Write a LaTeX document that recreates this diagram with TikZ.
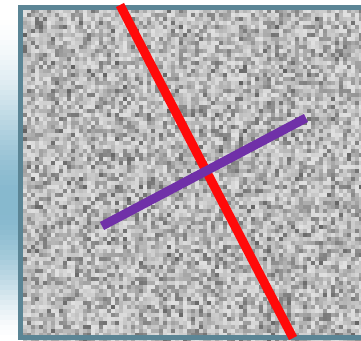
\documentclass[tikz,border=0pt]{standalone}
\usepackage{xcolor}
\definecolor{framegray}{HTML}{5B8595}
\definecolor{stripblue}{HTML}{78B0C8}
\definecolor{linered}{HTML}{FF0A0A}
\definecolor{linepurple}{HTML}{7030A8}
\begin{document}
\begin{tikzpicture}[
    x=1pt, y=-1pt,
    cross/.style={line width=9pt, line cap=butt},
]
\useasboundingbox (0,0) rectangle (361,340);

% Side strip
\foreach \k in {0,...,67} {
  \pgfmathsetmacro{\t}{(\k+0.5)/68}
  \pgfmathtruncatemacro{\p}{90*sin(180*\t^1.35)^1.6}
  \fill[stripblue!\p!white] (0,{5*\k}) rectangle (18,{5*\k+5.4});
}

% Noise field
\fill[black!30] (21,7) rectangle (361,338);
\pgfmathsetseed{4217}
\foreach \i in {0,...,84} {
  \foreach \j in {0,...,82} {
    \pgfmathrandominteger{\ga}{12}{62}
    \pgfmathrandominteger{\gb}{12}{62}
    \pgfmathtruncatemacro{\g}{min(\ga,\gb)}
    \fill[black!\g] ({23+4*\i},{9+4*\j}) rectangle +(4.4,4.4);
  }
}

% Frame
\draw[framegray, line width=5pt] (363,7.5) -- (20.5,7.5) -- (20.5,337.5) -- (363,337.5);

% Lines
\coordinate (redtop) at (120,5);
\coordinate (redbot) at (293,338);
\coordinate (purpleleft) at (102,226);
\coordinate (purpleright) at (306,118);
\draw[cross, linered] (redtop) -- (redbot);
\draw[cross, linepurple] (purpleleft) -- (purpleright);
\end{tikzpicture}
\end{document}
